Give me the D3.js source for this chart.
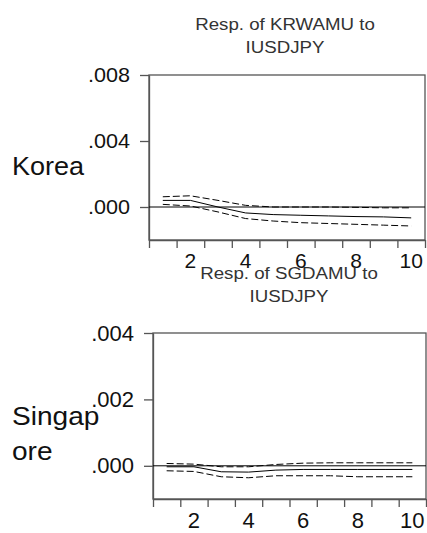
<!DOCTYPE html>
<html>
<head>
<meta charset="utf-8">
<script src="https://cdn.jsdelivr.net/npm/d3@7"></script>
<style>
  body { margin: 0; background: #fff; }
  svg { display: block; font-family: "Liberation Sans", Arial, sans-serif; }
</style>
</head>
<body>
<div id="chart"></div>
<script>
// impulse responses to IUSDJPY, periods 1..10
const periods = [1, 2, 3, 4, 5, 6, 7, 8, 9, 10];

const krwMid   = [0.00040, 0.00040, 0.00000, -0.00036, -0.00046, -0.00050, -0.00054, -0.00058, -0.00060, -0.00066];
const krwUpper = [0.00062, 0.00068, 0.00040, 0.00010, 0.00000, 0.00000, 0.00000, -0.00002, -0.00005, -0.00005];
const krwLower = [0.00016, 0.00006, -0.00030, -0.00070, -0.00085, -0.00095, -0.00100, -0.00105, -0.00110, -0.00115];

const sgdMid   = [-0.00003, -0.00003, -0.00018, -0.00019, -0.00013, -0.00011, -0.00011, -0.00011, -0.00011, -0.00011];
const sgdUpper = [0.00007, 0.00005, -0.00003, -0.00003, 0.00004, 0.00008, 0.00009, 0.00009, 0.00009, 0.00009];
const sgdLower = [-0.00015, -0.00017, -0.00033, -0.00036, -0.00030, -0.00030, -0.00030, -0.00033, -0.00033, -0.00033];

const krwTicks = [0.008, 0.004, 0.000];
const sgdTicks = [0.004, 0.002, 0.000];
const xLabels = [2, 4, 6, 8, 10];

const width = 427;
const height = 533;

const svg = d3.select('#chart').append('svg')
  .attr('width', width)
  .attr('height', height);

const panels = [
  {
    title: ['Resp. of KRWAMU to', 'IUSDJPY'], titleX: 285, titleY: 30,
    label: ['Korea'], labelY: 175, labelSize: 26, labelSx: 1.04,
    left: 149, right: 425, top: 75, bottom: 240,
    domain: [-0.002, 0.008], ticks: krwTicks, ySize: 20, ySx: 1.08, xSize: 21, xOff: 28,
    mid: krwMid, upper: krwUpper, lower: krwLower
  },
  {
    title: ['Resp. of SGDAMU to', 'IUSDJPY'], titleX: 289, titleY: 279,
    label: ['Singap', 'ore'], labelY: 425, labelSize: 26, labelSx: 1.08,
    left: 153, right: 426, top: 333, bottom: 499,
    domain: [-0.001, 0.004], ticks: sgdTicks, ySize: 22, ySx: 1.0, xSize: 22, xOff: 29,
    mid: sgdMid, upper: sgdUpper, lower: sgdLower
  }
];

const fmt = d => d3.format('.3f')(d).replace(/^0/, '').replace(/^-0/, '-');

panels.forEach(p => {
  const x = d3.scaleLinear().domain([0.5, 10.5]).range([p.left, p.right]);
  const y = d3.scaleLinear().domain(p.domain).range([p.bottom, p.top]);
  const g = svg.append('g');

  // title, two lines
  p.title.forEach((t, i) => {
    g.append('text')
      .attr('transform', `translate(${p.titleX},${p.titleY + i * 23}) scale(1.1,1)`)
      .attr('text-anchor', 'middle')
      .attr('font-size', 17)
      .attr('fill', '#333')
      .text(t);
  });

  // country label on the left
  p.label.forEach((t, i) => {
    g.append('text')
      .attr('transform', `translate(12,${p.labelY + i * 35}) scale(${p.labelSx},1)`)
      .attr('font-size', p.labelSize)
      .attr('fill', '#111')
      .text(t);
  });

  // frame
  g.append('rect')
    .attr('x', p.left).attr('y', p.top)
    .attr('width', p.right - p.left).attr('height', p.bottom - p.top)
    .attr('fill', 'none').attr('stroke', '#555').attr('stroke-width', 1.3);

  // y axis
  const yAxis = g.append('g')
    .attr('transform', `translate(${p.left},0)`)
    .call(d3.axisLeft(y).tickValues(p.ticks).tickFormat(fmt).tickSize(9).tickSizeOuter(0));
  yAxis.select('.domain').attr('stroke', '#555').attr('stroke-width', 1.3);
  yAxis.selectAll('line').attr('stroke', '#555').attr('stroke-width', 1.3);
  yAxis.selectAll('text')
    .attr('font-size', p.ySize)
    .attr('fill', '#111')
    .attr('font-family', '"Liberation Sans", Arial, sans-serif')
    .attr('x', -19 / p.ySx)
    .attr('transform', `scale(${p.ySx},1)`);

  // x axis: ticks at period boundaries, labels on even periods
  const bounds = d3.range(0.5, 11, 1);
  const xAxis = g.append('g')
    .attr('transform', `translate(0,${p.bottom})`)
    .call(d3.axisBottom(x).tickValues(bounds).tickFormat('').tickSize(8).tickSizeOuter(0));
  xAxis.select('.domain').attr('stroke', '#555').attr('stroke-width', 1.3);
  xAxis.selectAll('line').attr('stroke', '#555').attr('stroke-width', 1.3);

  g.selectAll('.xlab')
    .data(xLabels)
    .join('text')
    .attr('class', 'xlab')
    .attr('x', d => x(d))
    .attr('y', p.bottom + p.xOff)
    .attr('text-anchor', 'middle')
    .attr('font-size', p.xSize)
    .attr('fill', '#111')
    .text(d => d);

  // zero line
  g.append('line')
    .attr('x1', p.left).attr('x2', p.right)
    .attr('y1', y(0)).attr('y2', y(0))
    .attr('stroke', '#000').attr('stroke-width', 1);

  const line = d3.line()
    .x((d, i) => x(periods[i]))
    .y(d => y(d));

  g.append('path').datum(p.upper)
    .attr('d', line).attr('fill', 'none')
    .attr('stroke', '#000').attr('stroke-width', 1).attr('stroke-dasharray', '7,3');
  g.append('path').datum(p.lower)
    .attr('d', line).attr('fill', 'none')
    .attr('stroke', '#000').attr('stroke-width', 1).attr('stroke-dasharray', '7,3');
  g.append('path').datum(p.mid)
    .attr('d', line).attr('fill', 'none')
    .attr('stroke', '#000').attr('stroke-width', 1);
});
</script>
</body>
</html>
